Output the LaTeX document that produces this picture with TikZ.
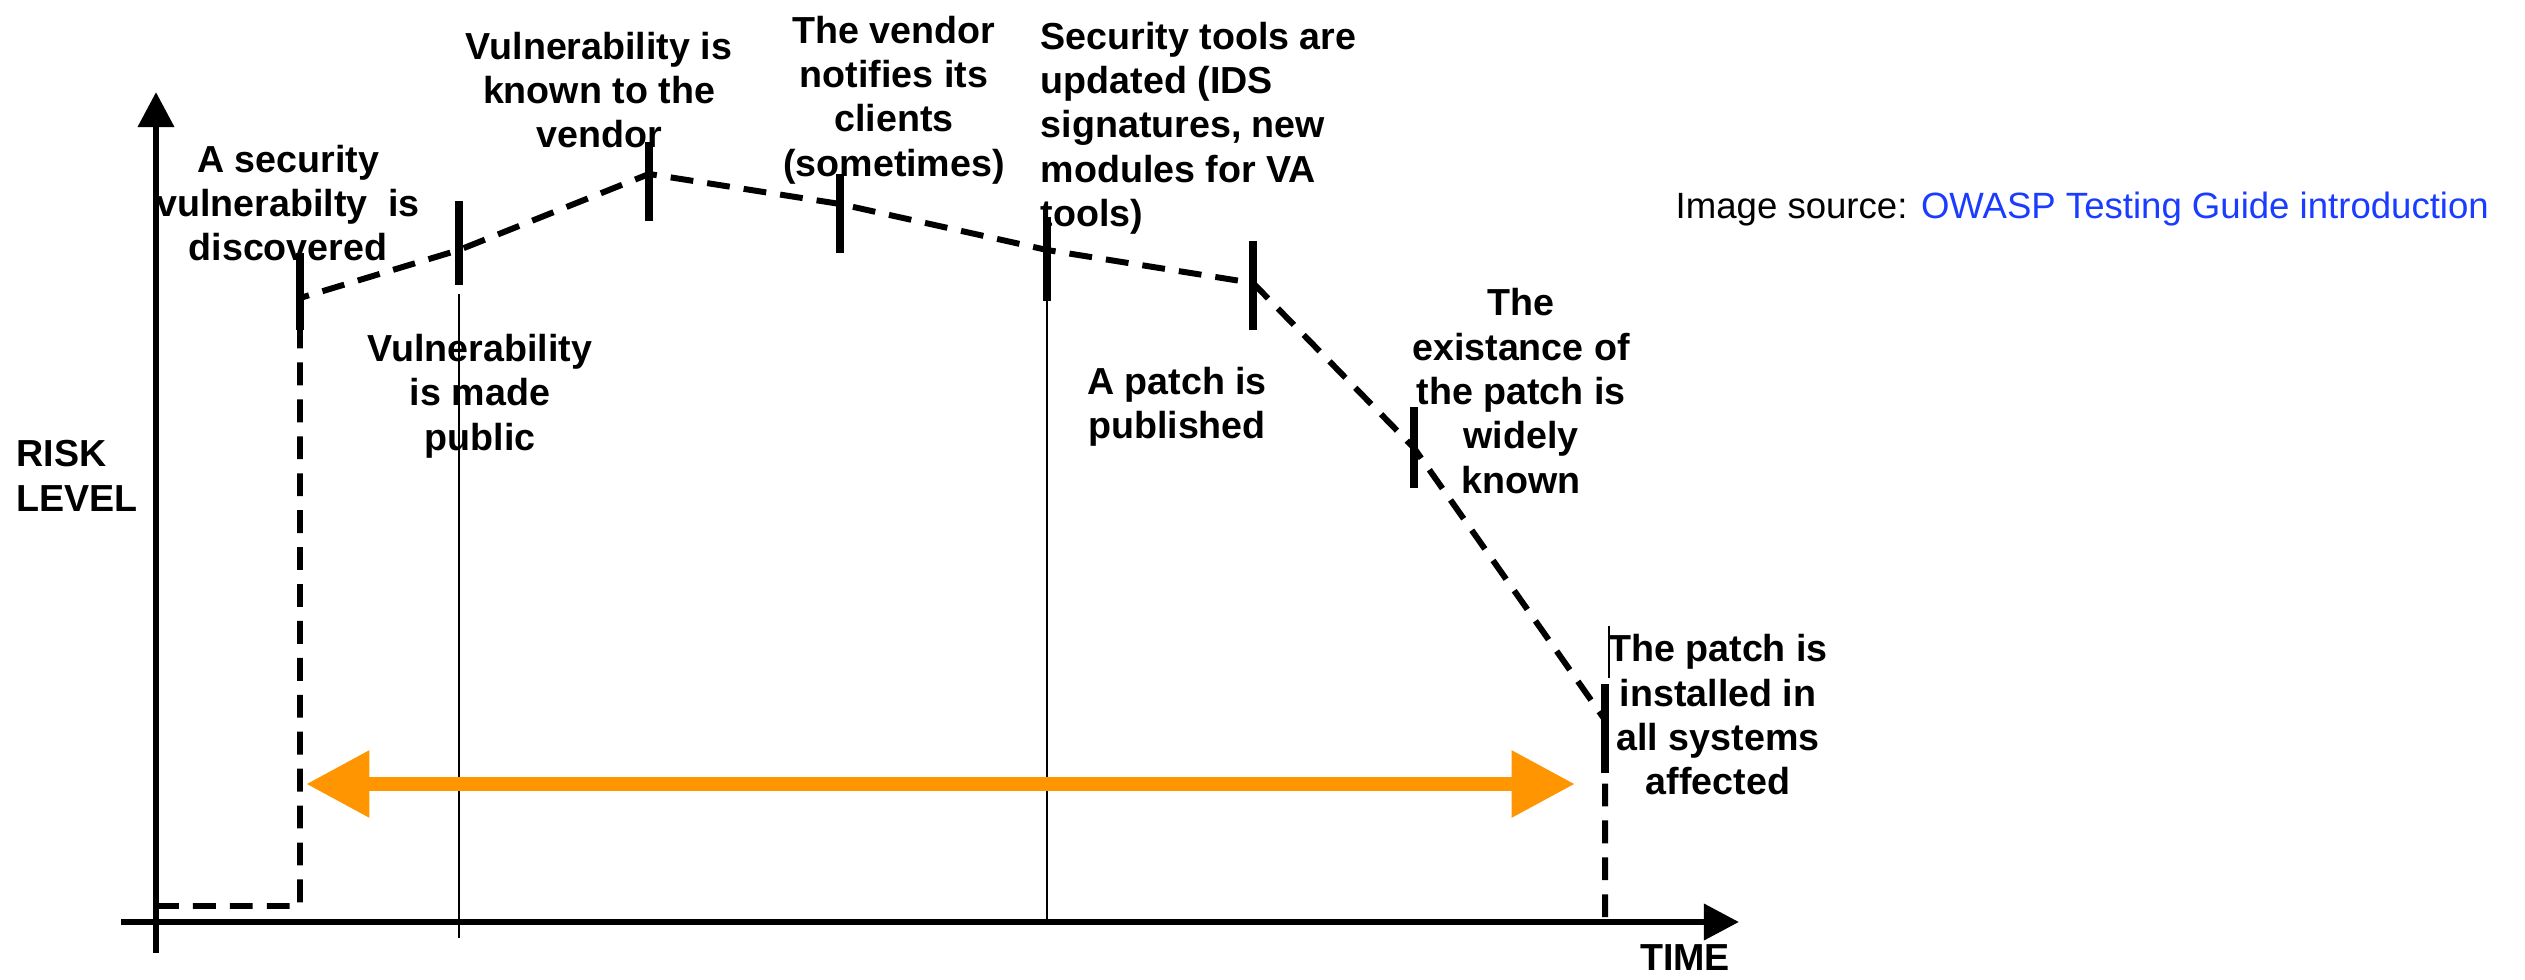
\documentclass[tikz,border=0pt]{standalone}
\usepackage{fontspec}
\setmainfont{Liberation Sans}
\usepackage{xcolor}
\usetikzlibrary{arrows.meta}
\definecolor{windoworange}{HTML}{FF9500}
\definecolor{linkblue}{HTML}{1A3CFF}

\begin{document}
\begin{tikzpicture}[x=0.01cm,y=-0.01cm]
		\tikzstyle{axis}=[line width=1.9pt, -{Triangle[length=10pt,width=10pt]}]
		\tikzstyle{risk}=[line width=1.7pt, dash pattern=on 6.5pt off 4pt]
		\tikzstyle{event}=[line width=2.2pt]
		\tikzstyle{guide}=[line width=0.4pt]
		\tikzstyle{window}=[draw=windoworange, line width=4pt, {Triangle[length=18pt,width=18pt]}-{Triangle[length=18pt,width=18pt]}]
		\tikzstyle{label}=[align=center, inner sep=0pt, font=\bfseries\fontsize{10.7}{12.6}\selectfont]

		\useasboundingbox (0,0) rectangle (2525,980);

		% axes
		\coordinate (ybot) at (156,953);
		\coordinate (ytop) at (156,92);
		\coordinate (xleft) at (121,922);
		\coordinate (xright) at (1739,922);
		\draw [axis] (ybot) -- (ytop);
		\draw [axis] (xleft) -- (xright);

		% risk curve
		\coordinate (r0) at (156,906);
		\coordinate (r1) at (300,906);
		\coordinate (t1) at (300,298);
		\coordinate (t2) at (459,250);
		\coordinate (t3) at (649,174);
		\coordinate (t4) at (840,204);
		\coordinate (t5) at (1047,250);
		\coordinate (t6) at (1253,283);
		\coordinate (t7) at (1414,448);
		\coordinate (t8) at (1605,720);
		\coordinate (r9) at (1605,922);
		\draw [risk] (r0) -- (r1) -- (t1) -- (t2) -- (t3) -- (t4) -- (t5) -- (t6) -- (t7) -- (t8) -- (r9);

		% event marks
		\draw [event] (t1) ++(0,-45) -- ++(0,77);
		\draw [event] (t2) ++(0,-49) -- ++(0,84);
		\draw [event] (t3) ++(0,-32) -- ++(0,79);
		\draw [event] (t4) ++(0,-30) -- ++(0,79);
		\draw [event] (t5) ++(0,-33) -- ++(0,84);
		\draw [event] (t6) ++(0,-42) -- ++(0,89);
		\draw [event] (t7) ++(0,-41) -- ++(0,81);
		\draw [event] (t8) ++(0,-36) -- ++(0,89);

		% thin guides
		\coordinate (g2top) at (459,294);
		\coordinate (g2bot) at (459,938);
		\coordinate (g5top) at (1047,301);
		\coordinate (g5bot) at (1047,922);
		\coordinate (g8top) at (1609,626);
		\coordinate (g8bot) at (1609,678);
		\draw [guide] (g2top) -- (g2bot);
		\draw [guide] (g5top) -- (g5bot);
		\draw [guide] (g8top) -- (g8bot);

		% exposure window
		\coordinate (wleft) at (306,784);
		\coordinate (wright) at (1575,784);
		\draw [window] (wleft) -- (wright);

		% labels
		\node [label] (discovered) at (288,203) {A security\\vulnerabilty\ \ is\\discovered};
		\node [label] (known) at (599,90) {Vulnerability is\\known to the\\vendor};
		\node [label] (notifies) at (894,100) {The vendor\\notifies its\\clients\\(sometimes)};
		\node [label, align=left, anchor=west] (tools) at (1040,128) {Security tools are\\updated (IDS\\signatures, new\\modules for VA\\tools)};
		\node [label] (public) at (480,396) {Vulnerability\\is made\\public};
		\node [label] (published) at (1177,407) {A patch is\\published};
		\node [label] (widely) at (1521,391) {The\\existance of\\the patch is\\widely\\known};
		\node [label] (installed) at (1718,715) {The patch is\\installed in\\all systems\\affected};
		\node [label, align=left, anchor=west] (risklevel) at (16,476) {RISK\\LEVEL};
		\node [label] (time) at (1685,958) {TIME};

		\node [anchor=west, inner sep=0pt, font=\fontsize{10.4}{12.5}\selectfont] (source) at (1675,209) {Image source: \textcolor{linkblue}{OWASP Testing Guide introduction}};
	\end{tikzpicture}
\end{document}
